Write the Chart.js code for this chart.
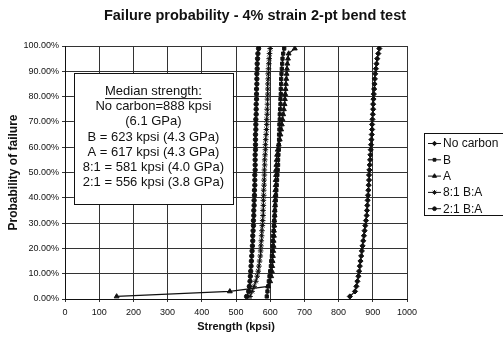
<!DOCTYPE html>
<html><head><meta charset="utf-8">
<script src="https://cdn.jsdelivr.net/npm/chart.js@4/dist/chart.umd.min.js"></script>
<style>html,body{margin:0;padding:0;background:#fff}#wrap{width:503px;height:339px}</style>
</head><body><div id="wrap"><canvas id="c"></canvas></div>
<script>
const probability = [1,3,5,7,9,11,13,15,17,19,21,23,25,27,29,31,33,35,37,39,41,43,45,47,49,51,53,55,57,59,61,63,65,67,69,71,73,75,77,79,81,83,85,87,89,91,93,95,97,99];
const noCarbon = [833,848,852,855,858,860,862,864,866,868,870,872,874,876,878,880,882,883,884,885,886,887,888,889,889,890,891,892,893,894,895,896,897,898,898,899,900,901,901,902,903,904,905,906,907,909,911,913,916,919];
const seriesB = [590,592,594,596,598,600,602,603,605,606,607,608,609,610,611,612,613,614,615,616,617,618,619,620,621,622,623,623,624,625,625,626,626,627,627,628,628,629,630,630,631,631,632,632,633,634,635,636,638,641];
const seriesA = [151,482,594,600,603,605,606,607,608,609,610,610,611,611,612,612,613,613,614,614,615,615,616,616,617,617,618,619,620,622,625,628,630,632,634,636,638,640,642,643,644,645,646,647,648,649,650,652,654,672];
const ratio8to1 = [541,547,553,558,562,565,567,569,571,572,573,574,575,576,577,578,579,579,580,580,581,581,582,582,583,583,584,584,585,586,586,587,588,589,590,590,591,591,592,592,593,593,593,594,594,595,596,597,598,600];
const ratio2to1 = [531,537,539,541,542,543,544,545,546,547,548,549,549,550,551,551,552,552,553,553,554,554,555,555,555,556,556,556,556,557,557,557,557,558,558,558,559,559,559,560,560,560,561,561,561,562,562,563,564,566];
const seriesNames = ['No carbon','B','A','8:1 B:A','2:1 B:A'];
const seriesValues = [noCarbon, seriesB, seriesA, ratio8to1, ratio2to1];
const pointStyles = ['rectRot','rect','triangle','star','circle'];
const pointRadii = [2.6,2.3,2.8,2.8,2.2];
const xTicks = [0,100,200,300,400,500,600,700,800,900,1000];
const yTicks = [0,10,20,30,40,50,60,70,80,90,100];
const chartTitle = 'Failure probability - 4% strain 2-pt bend test';
const noteLines = ['Median strength:','No carbon=888 kpsi','(6.1 GPa)','B = 623 kpsi (4.3 GPa)','A = 617 kpsi (4.3 GPa)','8:1 = 581 kpsi (4.0 GPa)','2:1 = 556 kpsi (3.8 GPa)'];

const FONT = '"Liberation Sans", Arial, sans-serif';
const INK = '#111';

const datasets = seriesNames.map((name, i) => ({
  label: name,
  data: seriesValues[i].map((x, k) => ({x: x, y: probability[k]})),
  borderColor: INK, backgroundColor: INK, borderWidth: 1.2,
  pointStyle: pointStyles[i], pointRadius: pointRadii[i], pointBorderWidth: 1,
  pointBackgroundColor: INK, pointBorderColor: INK,
  showLine: true, tension: 0
}));

const overlay = {
  id: 'overlay',
  afterDraw(chart) {
    const ctx = chart.ctx, xs = chart.scales.x, ys = chart.scales.y;
    ctx.save();
    // title
    ctx.fillStyle = INK; ctx.font = 'bold 14.5px ' + FONT; ctx.textAlign = 'center'; ctx.textBaseline = 'middle';
    ctx.fillText(chartTitle, 255, 16);
    // annotation box
    const l = xs.getPixelForValue(26), r = xs.getPixelForValue(491);
    const t = ys.getPixelForValue(89.3), b = ys.getPixelForValue(37.5);
    ctx.fillStyle = '#fff'; ctx.fillRect(l, t, r - l, b - t);
    ctx.strokeStyle = INK; ctx.lineWidth = 1;
    ctx.strokeRect(Math.round(l) + 0.5, Math.round(t) + 0.5, Math.round(r - l), Math.round(b - t));
    ctx.fillStyle = INK; ctx.font = '13px ' + FONT; ctx.textAlign = 'center'; ctx.textBaseline = 'middle';
    const cx = (l + r) / 2;
    noteLines.forEach((s, i) => {
      const y = t + 18 + i * 15.3;
      ctx.fillText(s, cx, y);
      if (i === 0) {
        const w = ctx.measureText(s).width;
        ctx.fillRect(cx - w / 2, y + 7, w, 1);
      }
    });
    // legend
    const lx = 424, ly = 133, lw = 80, lh = 82;
    ctx.fillStyle = '#fff'; ctx.fillRect(lx, ly, lw, lh);
    ctx.strokeStyle = INK; ctx.strokeRect(lx + 0.5, ly + 0.5, lw, lh);
    ctx.font = '12px ' + FONT; ctx.textAlign = 'left';
    seriesNames.forEach((name, i) => {
      const y = ly + 10 + i * 16.3;
      ctx.strokeStyle = INK; ctx.lineWidth = 1;
      ctx.beginPath(); ctx.moveTo(428, y + 0.5); ctx.lineTo(441, y + 0.5); ctx.stroke();
      ctx.fillStyle = INK;
      Chart.helpers.drawPoint(ctx, {pointStyle: pointStyles[i], radius: pointRadii[i] * 0.85, rotation: 0, borderWidth: 1}, 434.5, y + 0.5);
      ctx.fillStyle = INK;
      ctx.fillText(name, 443, y + 1);
    });
    ctx.restore();
  }
};

new Chart(document.getElementById('c'), {
  type: 'scatter',
  data: {datasets},
  plugins: [overlay],
  options: {
    responsive: true, maintainAspectRatio: false, animation: false,
    layout: {padding: {top: 46, right: 96, left: 0, bottom: 0}},
    plugins: {legend: {display: false}, tooltip: {enabled: false}, title: {display: false}},
    scales: {
      x: {
        type: 'linear', min: 0, max: 1000,
        afterBuildTicks(s) { s.ticks = xTicks.map(v => ({value: v})); },
        afterFit(s) { s.height = 40; },
        ticks: {color: INK, font: {family: FONT, size: 9}, padding: 5, maxRotation: 0, callback: v => String(v)},
        grid: {color: '#333', lineWidth: 1, tickLength: 3},
        border: {color: INK, width: 1},
        title: {display: true, text: 'Strength (kpsi)', color: INK, font: {family: FONT, size: 11, weight: 'bold'}, padding: {top: 0, bottom: 5}}
      },
      y: {
        min: 0, max: 100,
        afterBuildTicks(s) { s.ticks = yTicks.map(v => ({value: v})); },
        afterFit(s) { s.width = 65; },
        ticks: {color: INK, font: {family: FONT, size: 9}, padding: 3, callback: v => v.toFixed(2) + '%'},
        grid: {color: '#333', lineWidth: 1, tickLength: 3},
        border: {color: INK, width: 1},
        title: {display: true, text: 'Probability of failure', color: INK, font: {family: FONT, size: 12, weight: 'bold'}, padding: {top: 6, bottom: 0}}
      }
    }
  }
});
</script>
</body></html>
